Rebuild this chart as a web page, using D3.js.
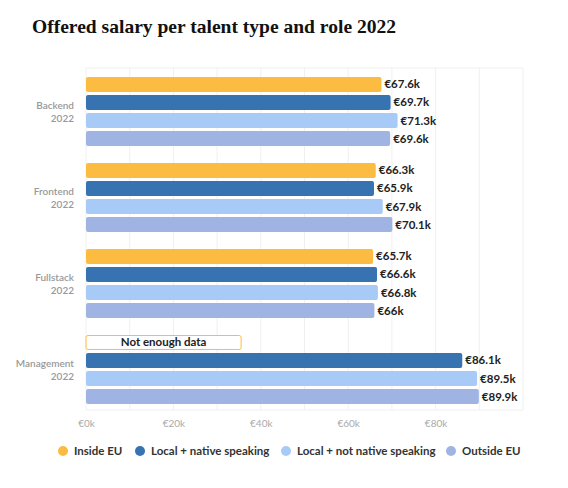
<!DOCTYPE html>
<html><head><meta charset="utf-8">
<script src="https://cdn.jsdelivr.net/npm/d3@7"></script>
<style>body{margin:0;background:#fff;font-family:Lato,"Open Sans",sans-serif}</style>
</head><body><svg id="c" width="568" height="488"></svg>
<script>
const categories = ["Backend", "Frontend", "Fullstack", "Management"];
const series = ["Inside EU", "Local + native speaking", "Local + not native speaking", "Outside EU"];
const colors = ["#fcbb41", "#3673b0", "#a8caf7", "#a0b4e4"];
const insideEU = [67.6, 66.3, 65.7, null];
const localNative = [69.7, 65.9, 66.6, 86.1];
const localNotNative = [71.3, 67.9, 66.8, 89.5];
const outsideEU = [69.6, 70.1, 66, 89.9];
const xTicks = [0, 20, 40, 60, 80];
const values = [insideEU, localNative, localNotNative, outsideEU];

const svg = d3.select("#c");
svg.append("text").attr("x", 32).attr("y", 33).text("Offered salary per talent type and role 2022")
  .attr("font-family", "'Liberation Serif',serif").attr("font-weight", "bold").attr("font-size", 19).attr("fill", "#111")
  .attr("textLength", 364).attr("lengthAdjust", "spacingAndGlyphs");

const x = d3.scaleLinear().domain([0, 100]).range([86, 523]);
const y0 = d3.scaleBand().domain(categories).range([68.5, 412.5]);
const y1 = d3.scaleBand().domain(series).range([8.5, 77.5]).paddingInner(0.167);

svg.append("g").selectAll("line").data(d3.range(0, 101, 10)).join("line")
  .attr("x1", d => x(d)).attr("x2", d => x(d)).attr("y1", 68).attr("y2", 410)
  .attr("stroke", "#f0f0f0");
svg.append("line").attr("x1", x(0)).attr("x2", x(100)).attr("y1", 68).attr("y2", 68).attr("stroke", "#f0f0f0");
svg.append("line").attr("x1", x(0)).attr("x2", x(100)).attr("y1", 410).attr("y2", 410).attr("stroke", "#f0f0f0");

const xa = svg.append("g").attr("transform", "translate(0,410)")
  .call(d3.axisBottom(x).tickValues(xTicks).tickSize(0).tickPadding(10).tickFormat(d => "€" + d + "k"));
xa.select(".domain").remove();
xa.selectAll("text").attr("fill", "#aaa").attr("font-size", 10).attr("font-family", "Lato,sans-serif");

categories.forEach(c => {
  const cy = y0(c) + y0.bandwidth() / 2;
  const t = svg.append("text").attr("text-anchor", "end").attr("fill", "#999").attr("font-size", 10).attr("font-weight", 600);
  t.append("tspan").attr("x", 74).attr("y", cy - 3).text(c);
  t.append("tspan").attr("x", 74).attr("y", cy + 10).text("2022");
});

series.forEach((s, si) => {
  categories.forEach((c, ci) => {
    const v = values[si][ci];
    const yy = y0(c) + y1(s);
    const h = y1.bandwidth();
    if (v == null) {
      svg.append("rect").attr("x", x(0)).attr("y", yy + 0.5).attr("width", x(35.5) - x(0)).attr("height", h - 1)
        .attr("rx", 2).attr("fill", "#fff").attr("stroke", colors[si]).attr("stroke-width", 1);
      svg.append("text").attr("x", (x(0) + x(35.5)) / 2).attr("y", yy + h / 2 + 4).attr("text-anchor", "middle")
        .attr("font-size", 11.5).attr("font-weight", "bold").attr("fill", "#222").text("Not enough data");
      return;
    }
    svg.append("rect").attr("x", x(0)).attr("y", yy).attr("width", x(v) - x(0)).attr("height", h)
      .attr("rx", 2).attr("fill", colors[si]);
    svg.append("text").attr("x", x(v) + 3).attr("y", yy + h / 2 + 4).attr("font-size", 11.5).attr("font-weight", "bold")
      .attr("fill", "#222").text("€" + v + "k");
  });
});

const starts = [63, 140, 286, 451];
series.forEach((s, i) => {
  const g = svg.append("g").attr("transform", `translate(${starts[i]},451)`);
  g.append("circle").attr("r", 5).attr("fill", colors[i]);
  g.append("text").attr("x", 11).attr("y", 4).attr("font-size", 11.5).attr("font-weight", "bold").attr("fill", "#333").text(s);
});
</script></body></html>
